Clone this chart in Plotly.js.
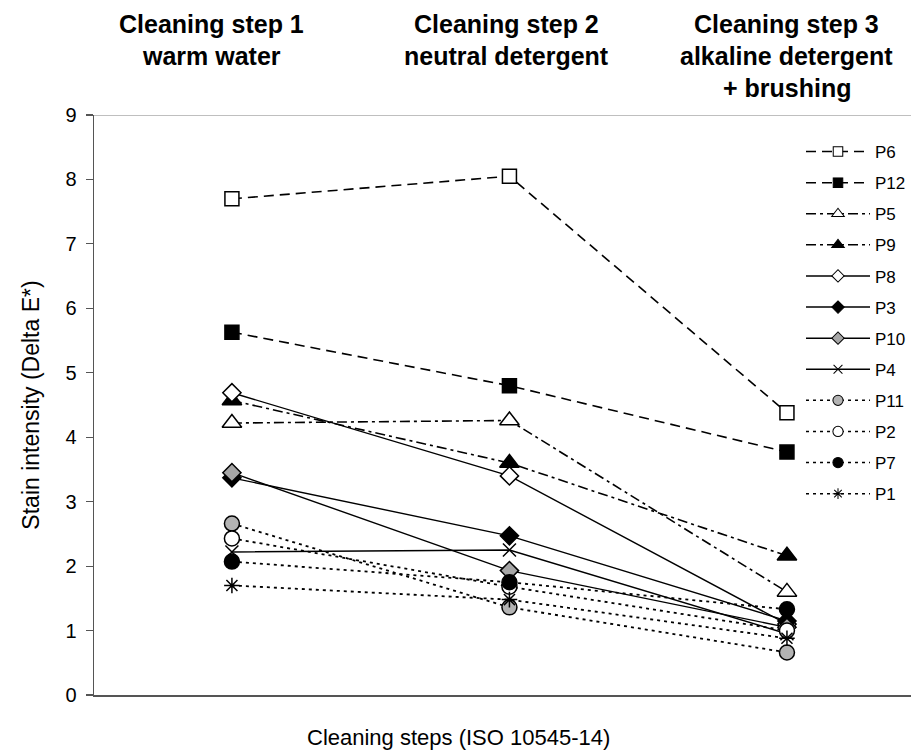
<!DOCTYPE html>
<html>
<head>
<meta charset="utf-8">
<script src="https://cdn.plot.ly/plotly-3.0.1.min.js"></script>
<style>html,body{margin:0;padding:0;background:#fff;}#chart{width:911px;height:752px;}</style>
</head>
<body>
<div id="chart"></div>
<script>
// ---- data ----
const steps = ["Cleaning step 1", "Cleaning step 2", "Cleaning step 3"];
const stepLabels = [
  ["Cleaning step 1", "warm water"],
  ["Cleaning step 2", "neutral detergent"],
  ["Cleaning step 3", "alkaline detergent", "+ brushing"]
];
const seriesNames = ["P6", "P12", "P5", "P9", "P8", "P3", "P10", "P4", "P11", "P2", "P7", "P1"];
const P6  = [7.70, 8.05, 4.38];
const P12 = [5.63, 4.80, 3.77];
const P5  = [4.22, 4.26, 1.60];
const P9  = [4.57, 3.60, 2.16];
const P8  = [4.69, 3.40, 1.10];
const P3  = [3.37, 2.47, 1.15];
const P10 = [3.45, 1.93, 1.05];
const P4  = [2.22, 2.25, 0.95];
const P11 = [2.66, 1.36, 0.66];
const P2  = [2.43, 1.68, 1.00];
const P7  = [2.07, 1.75, 1.33];
const P1  = [1.70, 1.48, 0.88];
const seriesValues = [P6, P12, P5, P9, P8, P3, P10, P4, P11, P2, P7, P1];
const yTicks = [0, 1, 2, 3, 4, 5, 6, 7, 8, 9];
const xTitle = "Cleaning steps (ISO 10545-14)";
const yTitle = "Stain intensity (Delta E*)";

// ---- styles ----
const DASH = "10px,6px", DASHDOT = "10px,4px,3px,4px", DOT = "3px,4px";
const styles = {
  P6:  {dash: DASH,    symbol: "square",        fill: "#ffffff", size: 14, w: 1.6},
  P12: {dash: DASH,    symbol: "square",        fill: "#000000", size: 14, w: 1.6},
  P5:  {dash: DASHDOT, symbol: "triangle-up",   fill: "#ffffff", size: 17, w: 1.6},
  P9:  {dash: DASHDOT, symbol: "triangle-up",   fill: "#000000", size: 17, w: 1.6},
  P8:  {dash: "solid", symbol: "diamond",       fill: "#ffffff", size: 14, w: 1.4},
  P3:  {dash: "solid", symbol: "diamond",       fill: "#000000", size: 14, w: 1.4},
  P10: {dash: "solid", symbol: "diamond",       fill: "#a6a6a6", size: 14, w: 1.4},
  P4:  {dash: "solid", symbol: "x-thin-open",   fill: "#000000", size: 13, w: 1.4},
  P11: {dash: DOT,     symbol: "circle",        fill: "#b3b3b3", size: 15, w: 1.8},
  P2:  {dash: DOT,     symbol: "circle",        fill: "#ffffff", size: 15, w: 1.8},
  P7:  {dash: DOT,     symbol: "circle",        fill: "#000000", size: 15, w: 1.8},
  P1:  {dash: DOT,     symbol: "asterisk-open", fill: "#000000", size: 13, w: 1.8}
};

const traces = seriesNames.map((name, i) => {
  const s = styles[name];
  return {
    type: "scatter", mode: "lines+markers", name: name,
    x: steps, y: seriesValues[i],
    legendgroup: name,
    line: {color: "#000", width: s.w, dash: s.dash},
    marker: {symbol: s.symbol, size: s.size, color: s.fill,
             line: {color: "#000", width: 1.5}},
    cliponaxis: false
  };
});

const font = "Liberation Sans, Arial, sans-serif";
const annotations = [];
stepLabels.forEach((lines, i) => {
  lines.forEach((t, j) => {
    annotations.push({
      xref: "x", yref: "paper", x: steps[i], y: 1 + (115 - 24 - 32 * j) / 580,
      xshift: [-20, -3, 0][i],
      text: "<b>" + t + "</b>", showarrow: false, xanchor: "center", yanchor: "middle",
      font: {family: font, size: 25, color: "#000"}
    });
  });
});
annotations.push({
  xref: "paper", yref: "paper", x: (458 - 94) / 817, y: -(737 - 695) / 580,
  text: xTitle, showarrow: false, xanchor: "center", yanchor: "middle",
  font: {family: font, size: 22, color: "#000"}
});

const layout = {
  width: 911, height: 752,
  margin: {l: 94, r: 0, t: 115, b: 57, pad: 0, autoexpand: false},
  paper_bgcolor: "#fff", plot_bgcolor: "#fff",
  font: {family: font, size: 18, color: "#000"},
  showlegend: true,
  legend: {
    x: (801 - 94) / 817, xanchor: "left", y: (695 - 134) / 580, yanchor: "top",
    bgcolor: "rgba(0,0,0,0)", borderwidth: 0,
    font: {family: font, size: 17, color: "#000"},
    itemwidth: 64, tracegroupgap: 6,
    traceorder: "grouped"
  },
  xaxis: {
    type: "category", range: [-0.497, 2.447],
    showticklabels: false, ticks: "", showgrid: false, zeroline: false,
    showline: true, linecolor: "#555", linewidth: 1.5
  },
  yaxis: {
    range: [0, 9], tickvals: yTicks, ticktext: yTicks.map(String),
    ticks: "outside", ticklen: 7, tickwidth: 1.2, tickcolor: "#555",
    showgrid: false, zeroline: false, showline: true, linecolor: "#555", linewidth: 1.5,
    tickfont: {family: font, size: 20, color: "#000"},
    ticklabelstandoff: 5,
    title: {text: yTitle, font: {family: font, size: 23, color: "#000"}, standoff: 19}
  },
  shapes: [{
    type: "line", xref: "paper", yref: "y", x0: 0, x1: 1, y0: 9, y1: 9,
    line: {color: "#aaaaaa", width: 1.5}, layer: "below"
  }],
  annotations: annotations
};

Plotly.newPlot("chart", traces, layout, {staticPlot: true, displayModeBar: false}).then(gd => {
  // thin legend line samples and smaller legend symbols, as in the reference
  gd.querySelectorAll(".legend .legendlines path").forEach(p => {
    p.style.strokeWidth = "1.5px";
  });
  gd.querySelectorAll(".legend .legendpoints path").forEach(p => {
    const t = p.getAttribute("transform") || "";
    p.setAttribute("transform", t + " scale(0.68)");
    p.style.strokeWidth = "1.5px";
  });
});
</script>
</body>
</html>
